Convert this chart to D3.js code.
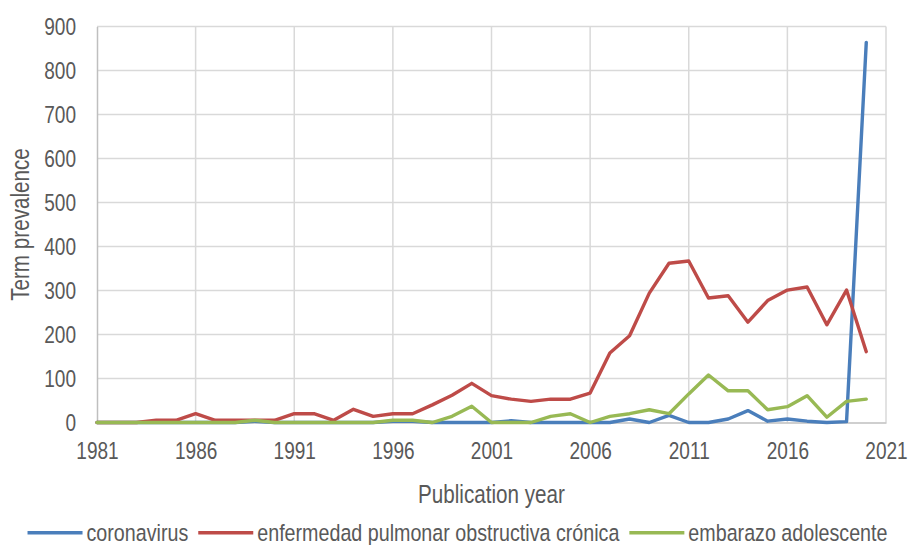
<!DOCTYPE html>
<html>
<head>
<meta charset="utf-8">
<script src="https://cdn.jsdelivr.net/npm/d3@7"></script>
<style>
  html, body { margin: 0; padding: 0; background: #ffffff; }
  svg { display: block; }
  text { font-family: "Liberation Sans", Arial, sans-serif; fill: #595959; }
</style>
</head>
<body>
<svg id="chart" width="909" height="545"></svg>
<script>
// Publication years 1981–2020
const years = d3.range(1981, 2021);

const coronavirus = [
  0, 0, 0, 0, 0, 0, 0, 0, 3, 0,
  0, 0, 0, 0, 0, 3, 3, 0, 0, 0,
  0, 4, 0, 0, 0, 0, 0, 8, 0, 16,
  0, 0, 8, 27, 3, 8, 3, 0, 2, 864
];
const epoc = [
  0, 0, 0, 5, 5, 20, 5, 5, 5, 5,
  20, 20, 5, 30, 14, 20, 20, 40, 62, 89,
  61, 53, 48, 53, 53, 67, 158, 197, 294, 362,
  367, 283, 288, 228, 277, 301, 308, 222, 301, 161
];
const embarazo = [
  0, 0, 0, 0, 0, 0, 0, 0, 5, 0,
  0, 0, 0, 0, 0, 5, 5, 0, 14, 37,
  0, 0, 0, 14, 20, 0, 14, 20, 29, 20,
  65, 108, 72, 72, 29, 36, 61, 12, 48, 53
];

const seriesNames = ["coronavirus", "enfermedad pulmonar obstructiva crónica", "embarazo adolescente"];
const seriesColors = ["#4a7ebb", "#be4b48", "#98b954"];
const seriesValues = [coronavirus, epoc, embarazo];

const xTicks = [1981, 1986, 1991, 1996, 2001, 2006, 2011, 2016, 2021];
const yTicks = [0, 100, 200, 300, 400, 500, 600, 700, 800, 900];

const xAxisTitle = "Publication year";
const yAxisTitle = "Term prevalence";

// narrow-face look: squeeze each label horizontally
const NARROW = 0.81;
function narrow(sel) {
  sel.each(function () {
    const w = this.getComputedTextLength();
    this.setAttribute("lengthAdjust", "spacingAndGlyphs");
    this.setAttribute("textLength", (w * NARROW).toFixed(2));
  });
}

const svg = d3.select("#chart");
const margin = { left: 97, right: 23, top: 26.5, bottom: 122.5 };
const W = 909, H = 545;

const x = d3.scaleLinear().domain([1981, 2021]).range([margin.left, W - margin.right]);
const y = d3.scaleLinear().domain([0, 900]).range([H - margin.bottom, margin.top]);

// horizontal gridlines
svg.append("g")
  .selectAll("line")
  .data(yTicks.filter(d => d > 0))
  .join("line")
  .attr("x1", margin.left).attr("x2", W - margin.right)
  .attr("y1", d => y(d)).attr("y2", d => y(d))
  .attr("stroke", "#d9d9d9").attr("stroke-width", 1.5);

// vertical gridlines
svg.append("g")
  .selectAll("line")
  .data(xTicks.filter(d => d > 1981))
  .join("line")
  .attr("x1", d => x(d)).attr("x2", d => x(d))
  .attr("y1", y(0)).attr("y2", y(900))
  .attr("stroke", "#d9d9d9").attr("stroke-width", 1.5);

// axes
const xAxis = d3.axisBottom(x).tickValues(xTicks).tickFormat(d3.format("d")).tickSize(0).tickPadding(20);
const yAxis = d3.axisLeft(y).tickValues(yTicks).tickSize(0).tickPadding(21);

const gx = svg.append("g").attr("transform", `translate(0,${y(0)})`).call(xAxis);
const gy = svg.append("g").attr("transform", `translate(${margin.left},0)`).call(yAxis);

[gx, gy].forEach(g => {
  g.select(".domain").attr("stroke", "#bfbfbf").attr("stroke-width", 1.5);
  g.selectAll("text").attr("font-size", 23.5).style("fill", "#595959")
    .style("font-family", '"Liberation Sans", Arial, sans-serif');
});
gy.selectAll("text").attr("dy", "0.36em");
narrow(gx.selectAll("text"));
narrow(gy.selectAll("text"));

// series lines
const line = d3.line().x((d, i) => x(years[i])).y(d => y(d));
svg.append("g")
  .selectAll("path")
  .data(seriesValues)
  .join("path")
  .attr("d", d => line(d))
  .attr("fill", "none")
  .attr("stroke", (d, i) => seriesColors[i])
  .attr("stroke-width", 3.4)
  .attr("stroke-linejoin", "round")
  .attr("stroke-linecap", "round");

// axis titles
svg.append("text")
  .attr("x", (margin.left + W - margin.right) / 2)
  .attr("y", 503)
  .attr("text-anchor", "middle")
  .attr("font-size", 25.5)
  .text(xAxisTitle)
  .call(narrow);

svg.append("text")
  .attr("transform", `translate(29,${(y(0) + y(900)) / 2}) rotate(-90)`)
  .attr("text-anchor", "middle")
  .attr("font-size", 25.5)
  .text(yAxisTitle)
  .call(narrow);

// legend
const legend = svg.append("g");
const swatch = 55, gap = 4, itemGap = 10;
const items = legend.selectAll("g").data(seriesNames).join("g");
items.append("line")
  .attr("x1", 0).attr("x2", swatch)
  .attr("y1", 0).attr("y2", 0)
  .attr("stroke", (d, i) => seriesColors[i])
  .attr("stroke-width", 3.4);
items.append("text")
  .attr("x", swatch + gap)
  .attr("dy", "0.35em")
  .attr("font-size", 24.3)
  .text(d => d)
  .call(narrow);

const widths = [];
items.each(function () {
  const t = d3.select(this).select("text").node();
  widths.push(swatch + gap + parseFloat(t.getAttribute("textLength")));
});
const total = d3.sum(widths) + itemGap * (widths.length - 1);
let cursor = 457.5 - total / 2;
items.attr("transform", (d, i) => {
  const tx = cursor;
  cursor += widths[i] + itemGap;
  return `translate(${tx},532.7)`;
});
</script>
</body>
</html>
